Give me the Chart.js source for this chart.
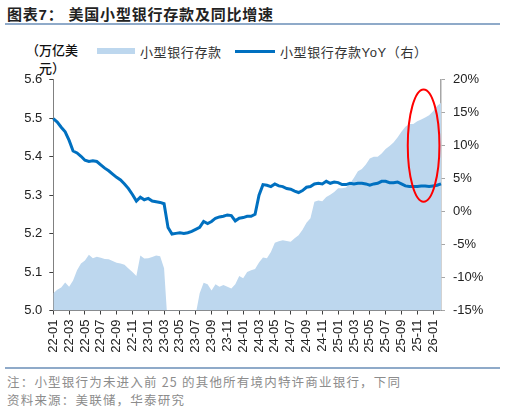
<!DOCTYPE html>
<html>
<head>
<meta charset="utf-8">
<script src="https://cdn.jsdelivr.net/npm/chart.js@4/dist/chart.umd.min.js"></script>
<style>
  body { margin: 0; width: 505px; height: 412px; background: #fff; position: relative; overflow: hidden;
         font-family: "Liberation Sans", Arial, "Noto Sans CJK SC", sans-serif; }
  .abs { position: absolute; white-space: nowrap; }
  #title { left: 7px; top: 3px; font-size: 15px; font-weight: bold; color: #222; letter-spacing: 0.8px;
           font-family: "Liberation Sans", "Noto Sans CJK SC", sans-serif; }
  .rule { position: absolute; left: 5px; width: 495px; height: 1.5px; background: #8FAAC9; }
  #unit { left: 26px; top: 41px; width: 52px; text-align: center; font-size: 13px; line-height: 18px; color: #111;
          white-space: normal; font-family: "Noto Sans CJK SC", sans-serif; font-weight: 500; }
  .leg { font-size: 13px; color: #333; letter-spacing: 0.6px; top: 42px; font-family: "Liberation Sans", "Noto Sans CJK SC", sans-serif; }
  .note { left: 7px; font-size: 12.5px; color: #8c8c8c; letter-spacing: 1.2px; font-family: "Noto Sans CJK SC", "Liberation Sans", sans-serif; }
  #wrap { position: absolute; left: 0; top: 63.5px; width: 505px; height: 298px; }
</style>
</head>
<body>
<div id="title" class="abs">图表7：&nbsp;美国小型银行存款及同比增速</div>
<div class="rule" style="top:23px"></div>

<div id="unit" class="abs">（万亿美元）</div>
<div class="abs" style="left:97px;top:48px;width:38px;height:6px;background:#BDD7EE"></div>
<div class="abs leg" style="left:140px">小型银行存款</div>
<div class="abs" style="left:235px;top:49.5px;width:40px;height:3.5px;background:#0070C0"></div>
<div class="abs leg" style="left:280px">小型银行存款YoY（右）</div>

<div id="wrap"><canvas id="chart"></canvas></div>

<div class="rule" style="top:367px"></div>
<div class="abs note" style="top:372px">注：小型银行为未进入前 25 的其他所有境内特许商业银行，下同</div>
<div class="abs note" style="top:390px">资料来源：美联储，华泰研究</div>

<script>
// half-month points, 2022-01 to 2026-03
const years = ['22', '23', '24', '25', '26'];
const months = years.flatMap(y => ['01','02','03','04','05','06','07','08','09','10','11','12'].map(m => y + '-' + m)).slice(0, 50);
const labels = [];
for (let i = 0; i < 99; i++) labels.push(months[Math.floor(i / 2)] + (i % 2 ? '-16' : '-01'));

// small bank deposits, trillion USD (left axis)
const deposits = [
  5.045, 5.054, 5.060, 5.073, 5.062, 5.078, 5.105, 5.122, 5.130, 5.145,
  5.136, 5.140, 5.137, 5.134, 5.133, 5.129, 5.124, 5.122, 5.119, 5.109,
  5.100, 5.090, 5.143, 5.135, 5.136, 5.139, 5.143, 5.141, 5.110, 4.950,
  4.930, 4.940, 4.950, 4.950, 4.960, 4.970, 4.990, 5.045, 5.072, 5.068,
  5.052, 5.068, 5.062, 5.066, 5.062, 5.057, 5.068, 5.090, 5.084, 5.100,
  5.105, 5.108, 5.125, 5.138, 5.136, 5.152, 5.176, 5.180, 5.183, 5.181,
  5.179, 5.188, 5.196, 5.210, 5.228, 5.240, 5.283, 5.286, 5.284, 5.295,
  5.301, 5.308, 5.318, 5.318, 5.320, 5.330, 5.345, 5.362, 5.368, 5.380,
  5.395, 5.400, 5.400, 5.408, 5.420, 5.428, 5.437, 5.450, 5.465, 5.478,
  5.485, 5.485, 5.492, 5.497, 5.502, 5.508, 5.518, 5.532, 5.540
];

// YoY %, right axis
const yoy = [
  14.1, 13.6, 12.8, 12.1, 10.8, 9.2, 8.9, 8.4, 7.8, 7.6,
  7.7, 7.6, 7.1, 6.6, 6.2, 5.7, 5.2, 4.8, 4.2, 3.5,
  2.6, 1.6, 2.2, 1.8, 2.0, 1.6, 1.5, 1.4, 1.2, -2.4,
  -3.4, -3.3, -3.2, -3.3, -3.2, -3.0, -2.7, -2.4, -1.5, -1.8,
  -1.5, -1.0, -0.8, -0.7, -0.5, -0.6, -1.4, -1.0, -0.9, -0.7,
  -0.7, -0.4, 2.5, 4.1, 4.0, 3.8, 4.2, 3.9, 3.8, 3.5,
  3.4, 3.1, 2.9, 3.2, 3.7, 3.8, 4.2, 4.3, 4.2, 4.6,
  4.3, 4.5, 4.4, 4.1, 4.1, 4.3, 4.2, 4.3, 4.3, 4.2,
  4.0, 4.2, 4.3, 4.6, 4.6, 4.4, 4.4, 4.5, 4.2, 3.9,
  3.8, 3.8, 3.8, 3.9, 3.9, 3.8, 3.9, 4.0, 4.2
];

// red ellipse highlight (index / left-axis value)
const mark = { x: 93.6, rx: 4.0, y: 5.429, ry: 0.146 };

const tickFont = { family: '"Liberation Sans", Arial, sans-serif', size: 13 };

const ellipsePlugin = {
  id: 'ellipse',
  afterDatasetsDraw(chart) {
    const { ctx, scales } = chart;
    const cx = scales.x.getPixelForValue(mark.x);
    const rx = scales.x.getPixelForValue(mark.x + mark.rx) - cx;
    const cy = scales.y.getPixelForValue(mark.y);
    const ry = cy - scales.y.getPixelForValue(mark.y + mark.ry);
    ctx.save();
    ctx.strokeStyle = '#FF0000';
    ctx.lineWidth = 2;
    ctx.beginPath();
    ctx.ellipse(cx, cy, rx, ry, 0, 0, Math.PI * 2);
    ctx.stroke();
    ctx.restore();
  }
};

new Chart(document.getElementById('chart'), {
  type: 'line',
  data: {
    labels: labels,
    datasets: [
      {
        label: '小型银行存款YoY（右）',
        data: yoy,
        yAxisID: 'y1',
        borderColor: '#0070C0',
        borderWidth: 3,
        pointRadius: 0,
        fill: false,
        order: 0
      },
      {
        label: '小型银行存款',
        data: deposits,
        yAxisID: 'y',
        borderWidth: 0,
        borderColor: 'rgba(0,0,0,0)',
        backgroundColor: '#BDD7EE',
        pointRadius: 0,
        fill: 'start',
        order: 1
      }
    ]
  },
  options: {
    responsive: true,
    maintainAspectRatio: false,
    animation: false,
    layout: { padding: { top: 2, left: 0, right: 0, bottom: 0 } },
    plugins: { legend: { display: false }, tooltip: { enabled: false } },
    scales: {
      x: {
        type: 'category',
        afterFit: s => { s.height = 51.5; },
        grid: {
          drawOnChartArea: false,
          tickLength: 4,
          color: c => (c.index % 4 === 0 ? '#404040' : 'rgba(0,0,0,0)')
        },
        border: { color: '#808080', width: 1 },
        ticks: {
          autoSkip: false,
          minRotation: 90,
          maxRotation: 90,
          padding: 5,
          color: '#222',
          font: tickFont,
          callback: (v, i) => (i % 4 === 0 ? months[i / 2] : '')
        }
      },
      y: {
        position: 'left',
        min: 5.0,
        max: 5.6,
        afterFit: s => { s.width = 53.3; },
        grid: { drawOnChartArea: false, tickLength: 4, color: '#404040' },
        border: { color: '#808080', width: 1 },
        ticks: { stepSize: 0.1, padding: 7, color: '#222', font: tickFont, callback: v => v.toFixed(1) }
      },
      y1: {
        position: 'right',
        min: -15,
        max: 20,
        afterFit: s => { s.width = 64; },
        grid: { drawOnChartArea: false, tickLength: 4, color: '#A6A6A6' },
        border: { color: '#A6A6A6', width: 1.5 },
        ticks: { stepSize: 5, padding: 8, color: '#222', font: tickFont, callback: v => v + '%' }
      }
    }
  },
  plugins: [ellipsePlugin]
});
</script>
</body>
</html>
